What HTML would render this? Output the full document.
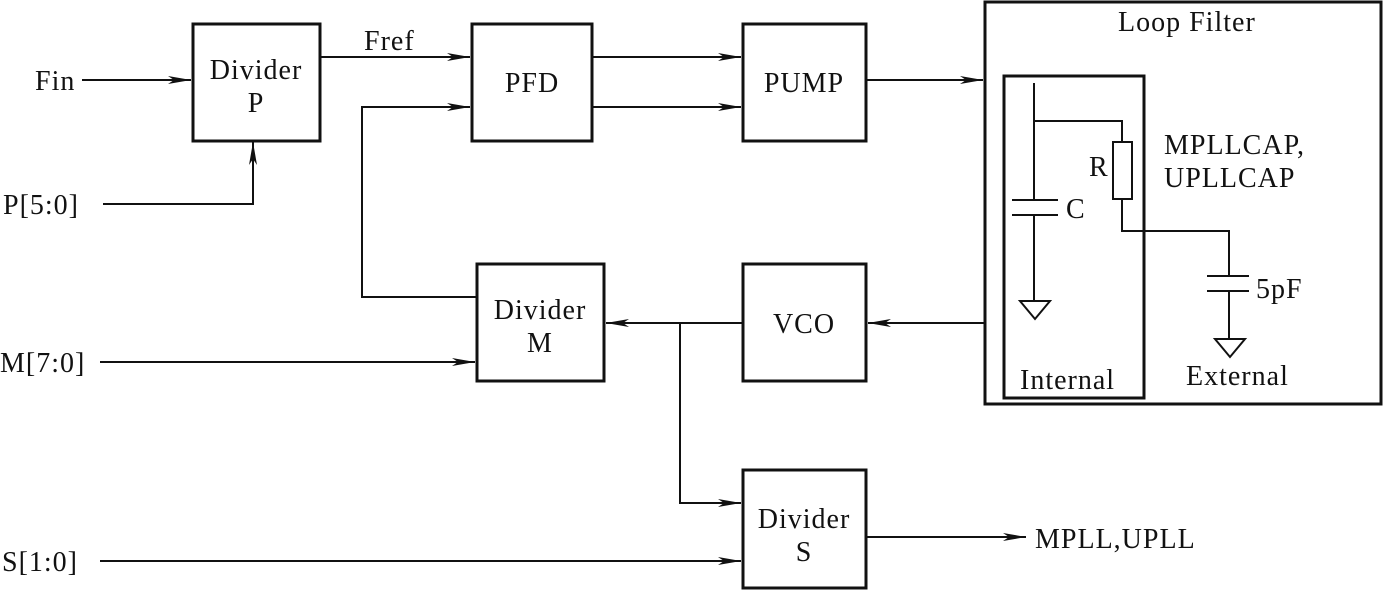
<!DOCTYPE html>
<html><head><style>body{margin:0;background:#fff}svg{display:block}text{font-family:"Liberation Serif",serif;font-size:28px;letter-spacing:1px;fill:#111}</style></head>
<body>
<svg width="1385" height="591" viewBox="0 0 1385 591" xmlns="http://www.w3.org/2000/svg">
<defs><marker id="a" markerWidth="24" markerHeight="12" refX="23" refY="6" orient="auto" markerUnits="userSpaceOnUse"><path d="M0,2 L23,6 L0,10 L6,6 Z" fill="#111"/></marker></defs>
<g fill="none" stroke="#111" stroke-width="3">
<rect x="193" y="24" width="127" height="117"/>
<rect x="472" y="24" width="120" height="117"/>
<rect x="743" y="24" width="123" height="117"/>
<rect x="477" y="264" width="127" height="117"/>
<rect x="743" y="264" width="123" height="117"/>
<rect x="743" y="470" width="123" height="118"/>
<rect x="985" y="2" width="396" height="402"/>
<rect x="1004" y="76" width="140" height="322"/>
</g>
<g fill="none" stroke="#111" stroke-width="2">
<path d="M82 80H191" marker-end="url(#a)"/>
<path d="M320 57H470" marker-end="url(#a)"/>
<path d="M103 204H253V142" marker-end="url(#a)"/>
<path d="M477 297H362V107H470" marker-end="url(#a)"/>
<path d="M592 57H741" marker-end="url(#a)"/>
<path d="M592 107H741" marker-end="url(#a)"/>
<path d="M866 80H983" marker-end="url(#a)"/>
<path d="M984 323H868" marker-end="url(#a)"/>
<path d="M743 323H606" marker-end="url(#a)"/>
<path d="M680 323V503H741" marker-end="url(#a)"/>
<path d="M100 362H475" marker-end="url(#a)"/>
<path d="M100 561H741" marker-end="url(#a)"/>
<path d="M866 537H1026" marker-end="url(#a)"/>
<path d="M1034 83V200M1012 200H1058M1012 215H1058M1034 215V301M1020 301H1050L1035 319Z"/>
<path d="M1034 121H1122V142M1122 199V231H1229V276M1207 276H1249M1207 291H1249M1229 291V339M1215 339H1245L1230 357Z"/>
<rect x="1113" y="142" width="19" height="57"/>
</g>
<text x="35" y="90">Fin</text>
<text x="3" y="214">P[5:0]</text>
<text x="0" y="372">M[7:0]</text>
<text x="2" y="571">S[1:0]</text>
<text x="364" y="50">Fref</text>
<text x="256" y="79" text-anchor="middle">Divider</text>
<text x="256" y="112" text-anchor="middle">P</text>
<text x="532" y="92" text-anchor="middle">PFD</text>
<text x="804" y="92" text-anchor="middle">PUMP</text>
<text x="540" y="319" text-anchor="middle">Divider</text>
<text x="540" y="352" text-anchor="middle">M</text>
<text x="804" y="333" text-anchor="middle">VCO</text>
<text x="804" y="528" text-anchor="middle">Divider</text>
<text x="804" y="561" text-anchor="middle">S</text>
<text x="1035" y="548">MPLL,UPLL</text>
<text x="1118" y="31">Loop Filter</text>
<text x="1164" y="154">MPLLCAP,</text>
<text x="1164" y="187">UPLLCAP</text>
<text x="1089" y="176">R</text>
<text x="1066" y="218">C</text>
<text x="1256" y="298">5pF</text>
<text x="1020" y="389">Internal</text>
<text x="1186" y="385">External</text>
</svg>
</body></html>
